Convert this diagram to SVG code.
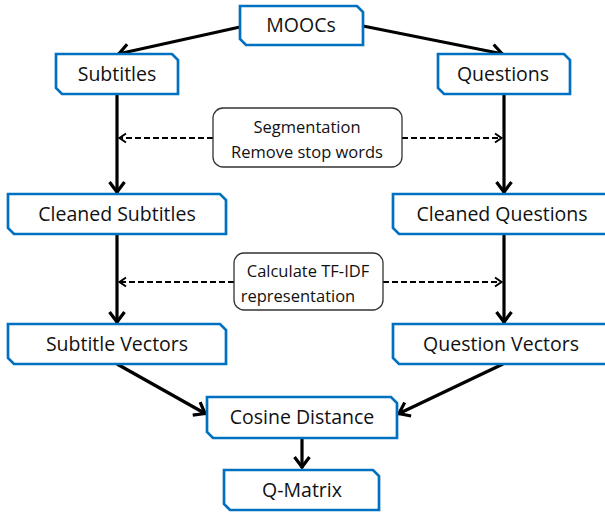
<svg xmlns="http://www.w3.org/2000/svg" width="605" height="514" viewBox="0 0 605 514">
<style>
.node{fill:#fff;stroke:#0070C0;stroke-width:2.7}
.lbl{font-family:"Open Sans","Liberation Sans",sans-serif;font-size:19.5px;fill:#111;text-anchor:middle}
.note{fill:#fff;stroke:#333;stroke-width:1.3}
.ntxt{font-family:"Open Sans","Liberation Sans",sans-serif;font-size:16.5px;fill:#111;text-anchor:middle}
.solid{fill:none;stroke:#000;stroke-width:3.2;marker-end:url(#ah)}
.dash{fill:none;stroke:#000;stroke-width:2.2;stroke-dasharray:6 3;marker-end:url(#dh)}
</style>
<defs>
<marker id="ah" markerUnits="userSpaceOnUse" markerWidth="24" markerHeight="24" viewBox="-16 -12 24 24" refX="0" refY="0" orient="auto">
<path d="M-11,-7.5 L-1,0 L-11,7.5" fill="none" stroke="#000" stroke-width="3.2"/>
</marker>
<marker id="dh" markerUnits="userSpaceOnUse" markerWidth="16" markerHeight="16" viewBox="-10 -8 16 16" refX="0" refY="0" orient="auto">
<path d="M-7,-4.5 L-0.5,0 L-7,4.5" fill="none" stroke="#000" stroke-width="2"/>
</marker>
</defs>

<g id="connectors">
<path class="solid" d="M240,27 L118,54"/>
<path class="solid" d="M363,26 L503,54"/>
<path class="solid" d="M117,94 L117,193"/>
<path class="solid" d="M504,94 L504,193"/>
<path class="solid" d="M117,234 L117,323"/>
<path class="solid" d="M504,234 L504,323"/>
<path class="solid" d="M117,364 L206,414"/>
<path class="solid" d="M503,364 L398,414"/>
<path class="solid" d="M302,438 L302,468"/>
<path class="dash" d="M213,138 L119,138"/>
<path class="dash" d="M402,138 L502,138"/>
<path class="dash" d="M234,282 L119,282"/>
<path class="dash" d="M383,282 L502,282"/>
</g>

<g id="moocs">
<path class="node" d="M240,6 H357 L363,12 V45 H246 L240,39 Z"/>
<text class="lbl" x="301" y="32">MOOCs</text>
</g>
<g id="subtitles">
<path class="node" d="M56,54 H172 L178,60 V94 H62 L56,88 Z"/>
<text class="lbl" x="117" y="81">Subtitles</text>
</g>
<g id="questions">
<path class="node" d="M438,54 H564 L570,60 V94 H444 L438,88 Z"/>
<text class="lbl" x="503" y="81">Questions</text>
</g>
<g id="segmentation">
<rect class="note" x="213" y="108" width="189" height="59" rx="10"/>
<text class="ntxt" x="307" y="133">Segmentation</text>
<text class="ntxt" x="307" y="158">Remove stop words</text>
</g>
<g id="cleaned-subtitles">
<path class="node" d="M8,194 H220 L226,200 V234 H14 L8,228 Z"/>
<text class="lbl" x="117" y="221">Cleaned Subtitles</text>
</g>
<g id="cleaned-questions">
<path class="node" d="M393,194 H606 L612,200 V234 H399 L393,228 Z"/>
<text class="lbl" x="502" y="221">Cleaned Questions</text>
</g>
<g id="tfidf">
<rect class="note" x="234" y="253" width="149" height="57" rx="10"/>
<text class="ntxt" x="308" y="277">Calculate TF-IDF</text>
<text class="ntxt" x="298" y="302">representation</text>
</g>
<g id="subtitle-vectors">
<path class="node" d="M8,324 H220 L226,330 V364 H14 L8,358 Z"/>
<text class="lbl" x="117" y="351">Subtitle Vectors</text>
</g>
<g id="question-vectors">
<path class="node" d="M393,324 H606 L612,330 V364 H399 L393,358 Z"/>
<text class="lbl" x="501" y="351">Question Vectors</text>
</g>
<g id="cosine">
<path class="node" d="M207,397 H391 L397,403 V438 H213 L207,432 Z"/>
<text class="lbl" x="302" y="424">Cosine Distance</text>
</g>
<g id="qmatrix">
<path class="node" d="M224,470 H373 L379,476 V510 H230 L224,504 Z"/>
<text class="lbl" x="302" y="497">Q-Matrix</text>
</g>
</svg>
